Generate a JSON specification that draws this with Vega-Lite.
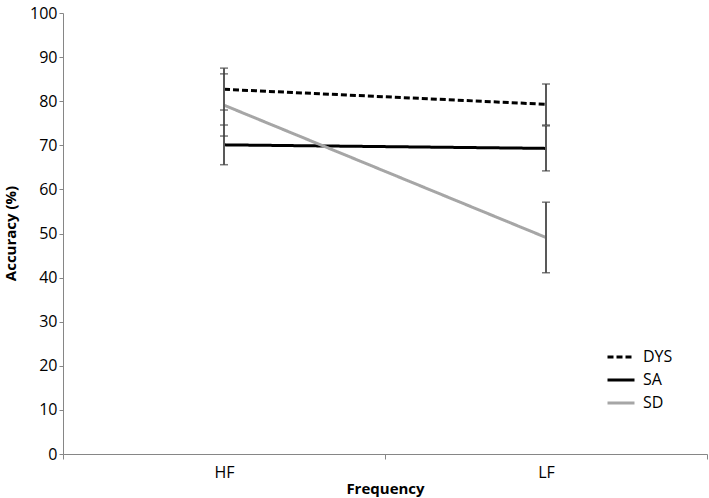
{
  "$schema": "https://vega.github.io/schema/vega-lite/v6.json",
  "width": 644,
  "height": 441,
  "autosize": {"type": "none"},
  "padding": {"left": 63, "top": 13, "right": 2, "bottom": 44},
  "background": "white",
  "config": {
    "view": {"stroke": null},
    "font": "Open Sans",
    "axis": {"domainColor": "#868686", "tickColor": "#868686", "labelColor": "#000000", "titleColor": "#000000", "labelFont": "Open Sans", "titleFont": "Open Sans", "grid": false}
  },
  "data": {
    "values": [
      {"group": "DYS", "freq": "HF", "mean": 82.7, "lo": 78.0, "hi": 87.5},
      {"group": "DYS", "freq": "LF", "mean": 79.3, "lo": 74.6, "hi": 83.9},
      {"group": "SA", "freq": "HF", "mean": 70.1, "lo": 65.6, "hi": 74.6},
      {"group": "SA", "freq": "LF", "mean": 69.3, "lo": 64.2, "hi": 74.4},
      {"group": "SD", "freq": "HF", "mean": 79.1, "lo": 72.1, "hi": 86.2},
      {"group": "SD", "freq": "LF", "mean": 49.1, "lo": 41.1, "hi": 57.1}
    ]
  },
  "encoding": {
    "x": {
      "field": "freq", "type": "nominal",
      "scale": {"type": "band", "paddingInner": 0, "paddingOuter": 0},
      "axis": {"title": "Frequency", "labelAngle": 0, "labelFontSize": 16, "tickBand": "extent", "tickSize": 5, "labelPadding": 5, "titleFontSize": 15, "titleFontWeight": "bold", "titleX": 322, "titleY": 34, "titleBaseline": "middle", "titleAlign": "center"}
    }
  },
  "layer": [
    {
      "mark": {"type": "line", "strokeWidth": 3},
      "encoding": {
        "y": {
          "field": "mean", "type": "quantitative",
          "scale": {"domain": [0, 100], "nice": false},
          "axis": {"title": "Accuracy (%)", "values": [0, 10, 20, 30, 40, 50, 60, 70, 80, 90, 100], "tickSize": 4, "labelPadding": 2, "labelFontSize": 16, "titleFontSize": 15, "titleFontWeight": "bold", "titleAngle": -90, "titleX": -53, "titleY": 220, "titleBaseline": "middle", "titleAlign": "center"}
        },
        "color": {
          "field": "group", "type": "nominal",
          "scale": {"domain": ["DYS", "SA", "SD"], "range": ["#000000", "#000000", "#a6a6a6"]},
          "legend": {"title": null, "orient": "none", "legendX": 543, "legendY": 329, "symbolType": "stroke", "symbolSize": 729, "symbolStrokeWidth": 3, "labelFontSize": 16, "rowPadding": -8, "labelOffset": 7, "labelColor": "#000000"}
        },
        "strokeDash": {
          "field": "group", "type": "nominal",
          "scale": {"domain": ["DYS", "SA", "SD"], "range": [[6, 3], [1, 0], [1, 0]]},
          "legend": {"title": null, "orient": "none", "legendX": 543, "legendY": 329, "symbolType": "stroke", "symbolSize": 729, "symbolStrokeWidth": 3, "labelFontSize": 16, "rowPadding": -8, "labelOffset": 7, "labelColor": "#000000"}
        }
      }
    },
    {
      "mark": {"type": "rule", "color": "#595959", "strokeWidth": 2},
      "encoding": {
        "y": {"field": "lo", "type": "quantitative"},
        "y2": {"field": "hi"}
      }
    },
    {
      "mark": {"type": "tick", "color": "#404040", "thickness": 1.5, "size": 8},
      "encoding": {"y": {"field": "lo", "type": "quantitative"}}
    },
    {
      "mark": {"type": "tick", "color": "#404040", "thickness": 1.5, "size": 8},
      "encoding": {"y": {"field": "hi", "type": "quantitative"}}
    }
  ]
}
